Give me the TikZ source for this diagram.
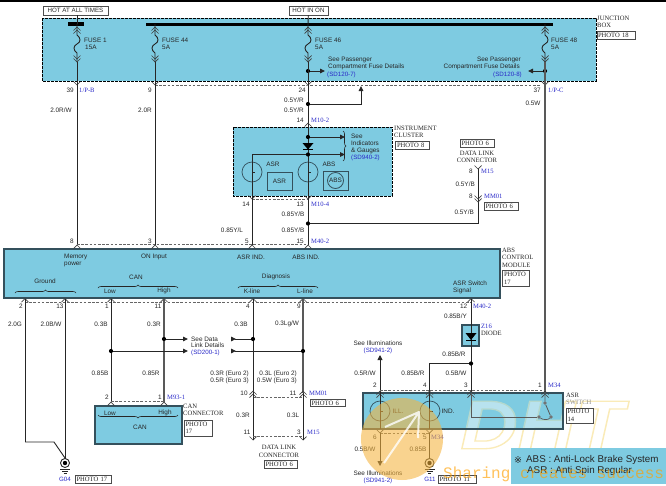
\documentclass[tikz,border=0pt]{standalone}
\usepackage{fontspec}
\setmainfont{Liberation Serif}
\setsansfont{Liberation Sans}
\newfontfamily\symfont{DejaVu Sans}
\newfontfamily\wmfont{Liberation Mono}
\usetikzlibrary{arrows.meta,decorations.pathreplacing}
\definecolor{panel}{HTML}{7ECBE1}
\definecolor{edge}{HTML}{34505C}
\definecolor{ink}{HTML}{262626}
\definecolor{link}{HTML}{2A2AC8}
\definecolor{orangewm}{HTML}{F4B33E}
\tikzset{
 wire/.style={line width=.9pt,draw=ink},
 gwire/.style={line width=1.1pt,draw=black!65},
 ptr/.style={wire,-{Triangle[length=5pt,width=4.5pt]}},
 rptr/.style={wire,-{Triangle[reversed,length=5pt,width=4.5pt]}},
 dotn/.style={circle,fill=black,inner sep=0pt,minimum size=4.2pt},
 dashl/.style={line width=.6pt,draw=black!60,dash pattern=on 2.6pt off 1.6pt},
 jbox/.style={fill=panel,draw=black,line width=.9pt,dash pattern=on 2.6pt off 1.4pt},
 mod/.style={fill=panel,draw=edge,line width=1.5pt},
 lab/.style={font=\sffamily\fontsize{6.4}{7}\selectfont,text=ink,inner sep=0pt},
 nm/.style={font=\rmfamily\fontsize{6.6}{7.4}\selectfont,text=ink,inner sep=0pt,align=left},
 blu/.style={font=\sffamily\fontsize{6.2}{7}\selectfont,text=link,inner sep=0pt},
 tag/.style={font=\rmfamily\fontsize{6.6}{7.4}\selectfont,text=ink,draw=black!70,fill=white,line width=.6pt,inner sep=0pt,align=left},
 chev/.style={line width=.7pt,draw=black!75},
 gauge/.style={line width=.7pt,draw=edge},
 br/.style={line width=.6pt,draw=ink,decorate,decoration={brace,amplitude=3pt}},
 dhtfont/.style={font=\sffamily\bfseries\itshape\fontsize{69}{69}\selectfont,inner sep=0pt,xscale=1.15},
}
% chevron pointing down / up with its tip at the given point
\newcommand\VD[2]{\draw[chev] (#1-3.5,#2-3.5) -- (#1,#2) -- (#1+3.5,#2-3.5);}
\newcommand\VU[2]{\draw[chev] (#1-3.5,#2+3.5) -- (#1,#2) -- (#1+3.5,#2+3.5);}
\newcommand\FuseSym[1]{%
 \VU{#1}{27}\VU{#1}{30}\VD{#1}{59}\VD{#1}{62}%
 \draw[wire] (#1,24) -- (#1,35) .. controls (#1+4,38) and (#1+4,42) .. (#1,44) .. controls (#1-4,46) and (#1-4,50) .. (#1,53) -- (#1,62);}
\newcommand\GndSym[2]{%
 \draw[wire] (#1,#2) circle (4.5pt);
 \fill[black] (#1,#2) circle (2.2pt);
 \draw[wire] (#1-5,#2+6) -- (#1+5,#2+6);
 \draw[line width=.7pt,draw=ink] (#1-3,#2+8) -- (#1+3,#2+8);
 \draw[line width=.7pt,draw=ink] (#1-1.5,#2+10) -- (#1+1.5,#2+10);}
\begin{document}
\begin{tikzpicture}[x=1pt,y=-1pt]
\useasboundingbox (0,0) rectangle (666,485);
\fill[black] (0,0) rectangle (666,2);

% ---------- panels
\node[tag,minimum width=65pt,minimum height=9pt,font=\sffamily\fontsize{6.2}{7}\selectfont] (hotall) at (75.5,10.5) {HOT AT ALL TIMES};
\node[tag,minimum width=39pt,minimum height=9pt,font=\sffamily\fontsize{6.2}{7}\selectfont] (hoton) at (308.5,10.5) {HOT IN ON};
\draw[jbox] (42,18) rectangle (596,81);
\draw[jbox] (233,127) rectangle (392,196);
\draw[mod] (4,249) rectangle (500,298);
\draw[mod] (95,406) rectangle (182,444);
\fill[panel] (363,393) rectangle (563,429);
\draw[mod,line width=1.2pt] (462,325) rectangle (479,346);

% ---------- watermark letters, beneath the wiring: filled white, stroked pale yellow
\node[dhtfont] (dht) at (542,425) {\special{pdf:code q 2 Tr 1.3 w 0.98 0.92 0.72 RG 1 1 1 rg}DHT\special{pdf:code Q}};
\fill[panel,opacity=.55] (363,393) rectangle (563,429);
\draw[mod,fill=none] (363,393) rectangle (563,429);

% ---------- buses
\draw[line width=3.4pt,black] (68,24) -- (84,24);
\draw[line width=3.4pt,black] (146,24.5) -- (553,24.5);
\draw[wire] (hotall.south -| 77,0) -- (77,24);
\draw[wire] (hoton) -- (308,24);

% ---------- fuses
\FuseSym{77}\FuseSym{155}\FuseSym{308}\FuseSym{545}
\node[lab,anchor=west] (f1a) at (84,40) {FUSE 1};
\node[lab,anchor=west] (f1b) at (85,47) {15A};
\node[lab,anchor=west] (f2a) at (162,40) {FUSE 44};
\node[lab,anchor=west] (f2b) at (162,47) {5A};
\node[lab,anchor=west] (f3a) at (315,40) {FUSE 46};
\node[lab,anchor=west] (f3b) at (315,47) {5A};
\node[lab,anchor=west] (f4a) at (551,40) {FUSE 48};
\node[lab,anchor=west] (f4b) at (551,47) {5A};
\node[nm,anchor=north west] (jbname) at (597,15.5) {JUNCTION\\BOX};
\node[tag,minimum width=38pt,minimum height=7.5pt,text width=36pt,align=left] (jbtag) at (616,35.5) {PHOTO 18};

\node[dotn] (d46) at (308,71) {};
\node[dotn] (d48) at (545,71) {};
\coordinate (a46) at (325,71);
\coordinate (a48) at (528,71);
\draw[ptr] (d46) -- (a46);
\draw[ptr] (d48) -- (a48);
\node[lab,anchor=west] (p1) at (328,60) {See Passenger};
\node[lab,anchor=west] (p2) at (328,67) {Compartment Fuse Details};
\node[blu,anchor=west] (p3) at (327,74.5) {(SD120-7)};
\node[lab,anchor=east] (q1) at (521,60) {See Passenger};
\node[lab,anchor=east] (q2) at (520,67) {Compartment Fuse Details};
\node[blu,anchor=east] (q3) at (522,75) {(SD120-8)};

% ---------- JB to module wires
\foreach \x in {77,155,308,545} {\VD{\x}{85}}
\draw[dashl] (155,85) -- (308,85) -- (541,85);
\draw[wire] (77,62) -- (77,245);
\draw[wire] (155,62) -- (155,245);
\draw[gwire] (545,62) -- (545,392);
\draw[wire] (308,62) -- (308,125);
\node[dotn] (d104) at (308,104) {};
\coordinate (u1) at (361,104);
\coordinate (u2) at (361,86);
\draw[wire,-{Triangle[length=5pt,width=4.5pt]}] (d104) -- (u1) -- (u2);
\node[lab,anchor=east] (n39) at (74,90) {39};
\node[nm,anchor=west,text=link] (c1) at (79,90) {1/P-B};
\node[lab,anchor=east] (n9) at (152,90) {9};
\node[lab,anchor=east] (n24) at (306,90) {24};
\node[lab,anchor=east] (n37) at (541,90) {37};
\node[nm,anchor=west,text=link] (c2) at (548,90) {1/P-C};
\node[lab] (w1) at (61,110) {2.0R/W};
\node[lab] (w2) at (145,110) {2.0R};
\node[lab] (w3) at (294,100) {0.5Y/R};
\node[lab] (w4) at (294,110) {0.5Y/R};
\node[lab] (w5) at (533,103) {0.5W};
\node[lab,anchor=east] (n14a) at (304,120) {14};
\node[nm,anchor=west,text=link] (c3) at (311,120) {M10-2};
\VU{308}{123}

% ---------- cluster
\draw[wire] (308,125) -- (308,196);
\node[dotn] (d137) at (308,137) {};
\node[dotn] (d154) at (308,154.5) {};
\coordinate (a137) at (345,137);
\coordinate (a154) at (345,154.5);
\draw[ptr] (d137) -- (a137);
\draw[ptr] (d154) -- (a154);
\fill[black] (302.5,143) -- (313.5,143) -- (308,149.5) -- cycle;
\draw[line width=.8pt,black] (303,149.7) -- (313,149.7);
\coordinate (l1) at (252,154.5);
\draw[wire] (d154) -- (l1) -- (252,196);
\draw[gauge,fill=panel] (252,172) circle (10pt);
\draw[gauge,fill=panel] (308,172) circle (10pt);
\draw[wire] (252,162) -- (252,182);
\draw[wire] (308,162) -- (308,182);
\draw[line width=1pt,ink] (252,172) -- (255,172);
\draw[line width=1pt,ink] (308,172) -- (311,172);
\node[lab] (casr) at (273,164) {ASR};
\node[lab] (cabs) at (329,164) {ABS};
\node[draw=edge,line width=.8pt,lab,minimum width=25pt,minimum height=18pt] (basr) at (279.5,181) {ASR};
\node[draw=edge,line width=.8pt,lab,minimum width=25pt,minimum height=19pt] (babs) at (335.5,180.5) {ABS};
\draw[gauge,line width=.8pt] (babs.center) circle (8pt);
\draw[br] (343,131) -- (343,161);
\node[lab,anchor=west] (s1) at (351,136) {See};
\node[lab,anchor=west] (s2) at (351,143.5) {Indicators};
\node[lab,anchor=west] (s3) at (351,151) {\& Gauges};
\node[blu,anchor=west] (s4) at (351,158) {(SD940-2)};
\node[nm,anchor=north west] (icn) at (394,126) {INSTRUMENT\\CLUSTER};
\node[tag,minimum width=34pt,minimum height=7.5pt,text width=30pt] (ictag) at (412,145.5) {PHOTO 8};

% ---------- data link branch
\foreach \x in {252,308} {\VD{\x}{199}}
\draw[dashl] (252,199) -- (308,199);
\draw[wire] (252,196) -- (252,245);
\draw[wire] (308,196) -- (308,245);
\node[dotn] (d224) at (308,223.5) {};
\coordinate (r1) at (478,223.5);
\coordinate (r2) at (478,168);
\draw[wire] (d224) -- (r1) -- (r2);
\VD{478}{199}\VD{478}{202}\VD{478}{169}
\node[lab] (n14) at (246,204) {14};
\node[lab,anchor=east] (n13) at (304,204) {13};
\node[nm,anchor=west,text=link] (c4) at (311,204) {M10-4};
\node[lab] (w6) at (293,214.5) {0.85Y/B};
\node[lab] (w7) at (232,230) {0.85Y/L};
\node[lab] (w8) at (293,230) {0.85Y/B};
\node[lab] (n5) at (247,241) {5};
\node[lab,anchor=east] (n15) at (304,241) {15};
\node[nm,anchor=west,text=link] (c5) at (311,241) {M40-2};
\node[tag,minimum width=34pt,minimum height=8pt,text width=31pt] (t6a) at (477,143) {PHOTO 6};
\node[nm,align=center] (dl1) at (477,157) {DATA LINK\\CONNECTOR};
\node[lab,anchor=east] (n8a) at (473,171) {8};
\node[nm,anchor=west,text=link] (c6) at (481,171) {M15};
\node[lab,anchor=east] (w9) at (475,184) {0.5Y/B};
\node[lab,anchor=east] (n8b) at (473,196) {8};
\node[nm,anchor=west,text=link] (c7) at (484,196) {MM01};
\node[lab,anchor=east] (w10) at (474,212) {0.5Y/B};
\node[tag,minimum width=34pt,minimum height=8pt,text width=31pt] (t6b) at (501,206.5) {PHOTO 6};

% ---------- ABS module
\foreach \x in {77,155,252,308} {\VU{\x}{245}}
\draw[dashl] (77,244.5) -- (308,244.5);
\node[lab] (n8c) at (72,241) {8};
\node[lab] (n3) at (150,241) {3};
\node[lab,anchor=north west,align=left,font=\sffamily\fontsize{6.4}{7.2}\selectfont] (mp) at (64,253.5) {Memory\\power};
\node[lab] (oni) at (154,257) {ON Input};
\node[lab] (asri) at (251,257) {ASR IND.};
\node[lab] (absi) at (306,257) {ABS IND.};
\node[lab] (gr) at (45,281) {Ground};
\node[lab] (can) at (136,277) {CAN};
\node[lab] (dia) at (276,277) {Diagnosis};
\node[lab] (lo) at (110,291) {Low};
\node[lab] (hi) at (164,291) {High};
\node[lab] (kl) at (252,291) {K-line};
\node[lab] (ll) at (305,291) {L-line};
\draw[br] (15,293) -- (76,293);
\draw[br] (98,288) -- (178,288);
\draw[br] (238,288) -- (318,288);
\node[lab,anchor=north west,align=left,font=\sffamily\fontsize{6.4}{7.2}\selectfont] (asw) at (453,280.5) {ASR Switch\\Signal};
\node[nm,anchor=north west] (absn) at (502,248) {ABS\\CONTROL\\MODULE};
\node[tag,minimum width=27pt,minimum height=16pt,text width=24pt] (abst) at (516,278.5) {PHOTO\\17};

% ---------- below module
\foreach \x in {25,65,111,164,253,303,471} {\VU{\x}{298.5}}
\draw[dashl] (25,302) -- (471,302);
\draw[wire] (25,299) -- (25,442);
\coordinate (gk1) at (54,442);
\coordinate (gk2) at (65,458);
\draw[wire] (25,442) -- (gk1) -- (gk2);
\draw[wire] (65,299) -- (65,459);
\draw[wire] (111,299) -- (111,402);
\draw[gwire] (164,299) -- (164,402);
\draw[wire] (253,299) -- (253,393);
\draw[gwire] (303,299) -- (303,393);
\node[lab] (n2a) at (21,306) {2};
\node[lab] (n13a) at (60,306) {13};
\node[lab] (n1a) at (107,306) {1};
\node[lab] (n11a) at (158,306) {11};
\node[lab] (n4a) at (248,306) {4};
\node[lab] (n9a) at (299,306) {9};
\node[nm,anchor=west,text=link] (c8) at (473,306) {M40-2};
\node[lab,anchor=east] (n12) at (467.5,306) {12};
\node[lab] (x1) at (15,324) {2.0G};
\node[lab] (x2) at (51,324) {2.0B/W};
\node[lab] (x3) at (101,324) {0.3B};
\node[lab] (x4) at (154,324) {0.3R};
\node[lab] (x5) at (241,324) {0.3B};
\node[lab] (x6) at (287,324) {0.3Lg/W};
\node[dotn] (j1) at (164,339) {};
\node[dotn] (j2) at (253,339) {};
\node[dotn] (j3) at (111,351) {};
\node[dotn] (j4) at (303,351) {};
\coordinate (k1) at (188,339);
\coordinate (k2) at (231,339);
\coordinate (k3) at (188,351);
\coordinate (k4) at (231,351);
\draw[ptr] (j1) -- (k1);
\draw[rptr] (j2) -- (k2);
\draw[ptr] (j3) -- (k3);
\draw[rptr] (j4) -- (k4);
\node[lab,anchor=west] (sd1) at (191,339) {See Data};
\node[lab,anchor=west] (sd2) at (191,345.5) {Link Details};
\node[blu,anchor=west] (sd3) at (191,352.5) {(SD200-1)};
\node[lab] (y1) at (100,373) {0.85B};
\node[lab] (y2) at (151,373) {0.85R};
\node[lab,anchor=east] (y3) at (249,373.5) {0.3R (Euro 2)};
\node[lab,anchor=east] (y4) at (249,380.5) {0.5R (Euro 3)};
\node[lab,anchor=east] (y5) at (297,373.5) {0.3L (Euro 2)};
\node[lab,anchor=east] (y6) at (297,380.5) {0.5W (Euro 3)};
% CAN connector
\foreach \x in {111,164} {\VU{\x}{402}}
\draw[dashl] (111,401.5) -- (164,401.5);
\node[lab] (n2b) at (107,397) {2};
\node[lab] (n1b) at (160,397) {1};
\node[nm,anchor=west,text=link] (c9) at (167,397) {M93-1};
\node[lab] (cl) at (110,413) {Low};
\node[lab] (ch) at (165,413) {High};
\draw[br,decoration={brace,amplitude=3pt,mirror}] (98,415) -- (178,415);
\node[lab] (cc) at (140,427) {CAN};
\node[nm,anchor=north west] (ccn) at (183,404) {CAN\\CONNECTOR};
\node[tag,minimum width=28pt,minimum height=16pt,text width=25pt] (cct) at (198,428) {PHOTO\\17};
% data link connector
\foreach \x in {253,303} {\VU{\x}{391}\VU{\x}{394}\VD{\x}{440}}
\draw[dashl] (253,397) -- (303,397);
\draw[wire] (253,393) -- (253,440);
\draw[wire] (303,393) -- (303,440);
\draw[dashl] (253,436.5) -- (303,436.5);
\node[lab] (n10) at (244,393) {10};
\node[lab] (n11b) at (293,393) {11};
\node[nm,anchor=west,text=link] (c10) at (309,393) {MM01};
\node[tag,minimum width=35pt,minimum height=7.5pt,text width=32pt] (t6c) at (327.5,403) {PHOTO 6};
\node[lab] (z1) at (243,415) {0.3R};
\node[lab] (z2) at (293,415) {0.3L};
\node[lab] (n11c) at (247,432) {11};
\node[lab] (n3b) at (299,432) {3};
\node[nm,anchor=west,text=link] (c11) at (307,432) {M15};
\node[nm,align=center] (dl2) at (279,451.5) {DATA LINK\\CONNECTOR};
\node[tag,minimum width=33pt,minimum height=8pt,text width=30pt] (t6d) at (280.5,464.5) {PHOTO 6};
% ground G04
\GndSym{65}{463}
\node[blu] (g04) at (65,479) {G04};
\node[tag,minimum width=36pt,minimum height=8pt,text width=33pt] (g04t) at (93,479) {PHOTO 17};

% ---------- diode and ASR switch
\draw[wire] (471,299) -- (471,392);
\fill[black] (465.5,333) -- (476.5,333) -- (471,340) -- cycle;
\draw[line width=.8pt,black] (466,340) -- (476,340);
\node[lab,anchor=east] (v1) at (467,316) {0.85B/Y};
\node[nm,anchor=west,text=link] (zid) at (481,326) {Z16};
\node[nm,anchor=west] (zd) at (481,333) {DIODE};
\node[dotn] (j5) at (471,363.5) {};
\coordinate (m1) at (429.5,363.5);
\coordinate (m2) at (429.5,392);
\draw[wire] (j5) -- (m1) -- (m2);
\node[lab] (v2) at (454,354) {0.85B/R};
\node[lab] (il1) at (378,343.5) {See Illuminations};
\node[blu] (il2) at (378,351) {(SD941-2)};
\coordinate (tt) at (380,355);
\coordinate (tb) at (380,392);
\draw[wire,{Triangle[length=5pt,width=5pt]}-] (tt) -- (tb);
\node[lab] (v3) at (365,373) {0.5R/W};
\node[lab] (v4) at (413,373) {0.85B/R};
\node[lab] (v5) at (456,373) {0.5B/W};
\node[lab] (n2c) at (375,385) {2};
\node[lab] (n4c) at (425,385) {4};
\node[lab] (n3c) at (466,385) {3};
\node[lab] (n1c) at (540,385) {1};
\node[nm,anchor=west,text=link] (c12) at (548,385) {M34};
\draw[dashl] (380,390) -- (545,390);
\foreach \x in {380,429.5,471,545} {\VU{\x}{391}\VU{\x}{394}}
\draw[gauge] (380,411) circle (10pt);
\draw[gauge] (430,411) circle (10pt);
\draw[wire] (380,392) -- (380,429);
\draw[wire] (429.5,392) -- (429.5,429);
\draw[line width=1pt,ink] (380,411) -- (383,411);
\draw[line width=1pt,ink] (430,411) -- (433,411);
\node[lab] (ill) at (398,411) {ILL.};
\node[lab] (ind) at (448,411) {IND.};
\coordinate (sa) at (471,417);
\node[circle,fill=black!55,inner sep=0pt,minimum size=3.6pt] (sw1) at (545,403) {};
\node[circle,fill=black!55,inner sep=0pt,minimum size=3.6pt] (sw2) at (539,417) {};
\node[circle,fill=black!55,inner sep=0pt,minimum size=3.6pt] (sw3) at (551,417) {};
\draw[gwire,line width=.8pt] (471,393) -- (sa) -- (sw2);
\draw[gwire,line width=.8pt] (545,392) -- (sw1) -- (sw3);
\draw[gwire,line width=.7pt] (sw2) .. controls (543,420) and (548,420) .. (sw3);
\node[nm,anchor=north west] (sn) at (566,392.5) {ASR\\\textcolor{black!45}{SWITCH}};
\node[tag,minimum width=27pt,minimum height=15pt,text width=24pt] (st) at (579.5,415.5) {PHOTO\\14};
\foreach \x in {380,429.5} {\VD{\x}{433}}
\draw[dashl] (380,433) -- (429.5,433);
\node[lab] (n6) at (375,437) {6};
\node[lab] (n5c) at (425,437) {5};
\node[nm,anchor=west,text=link] (c13) at (431,437) {M34};
\coordinate (bt) at (380,433);
\coordinate (bb) at (380,466);
\draw[wire,-{Triangle[length=5pt,width=5pt]}] (bt) -- (bb);
\draw[wire] (429.5,433) -- (429.5,459);
\GndSym{429.5}{463}
\node[lab] (v6) at (365,449) {0.5B/W};
\node[lab] (v7) at (418,449) {0.85B};
\node[lab] (il3) at (378,473.5) {See Illuminations};
\node[blu] (il4) at (378,481) {(SD941-2)};
\node[blu] (g11) at (430,479) {G11};
\node[tag,minimum width=38pt,minimum height=8pt,text width=35pt] (g11t) at (457,479) {PHOTO 11};

% ---------- watermark badge
\fill[orangewm,opacity=.58] (402,439) circle (41pt);
\coordinate (wt) at (419,412);
\coordinate (wa) at (385,427);
\coordinate (wb) at (384,463);
\coordinate (wc) at (418,438);
\draw[white,opacity=.8,line width=2pt,line join=round] (wa) -- (wt) -- (wb) (wt) -- (wc);
% ---------- legend
\fill[panel] (511,448) rectangle (666,484);
\node[inner sep=0pt,anchor=west,font=\fontsize{9.5}{10}\selectfont,text=ink] (lg0) at (514,460) {\symfont ※};
\node[inner sep=0pt,anchor=west,font=\sffamily\fontsize{9.8}{10}\selectfont,text=ink] (lg1) at (526,460) {ABS : Anti-Lock Brake System};
\node[inner sep=0pt,anchor=west,font=\sffamily\fontsize{9.8}{10}\selectfont,text=ink] (lg2) at (527,470.5) {ASR : Anti Spin Regular};
\node[inner sep=0pt,anchor=west,font=\wmfont\fontsize{16}{16}\selectfont,text=orange!75!yellow,opacity=.65] (wmt) at (443,474) {Sharing creates success};
\end{tikzpicture}
\end{document}
